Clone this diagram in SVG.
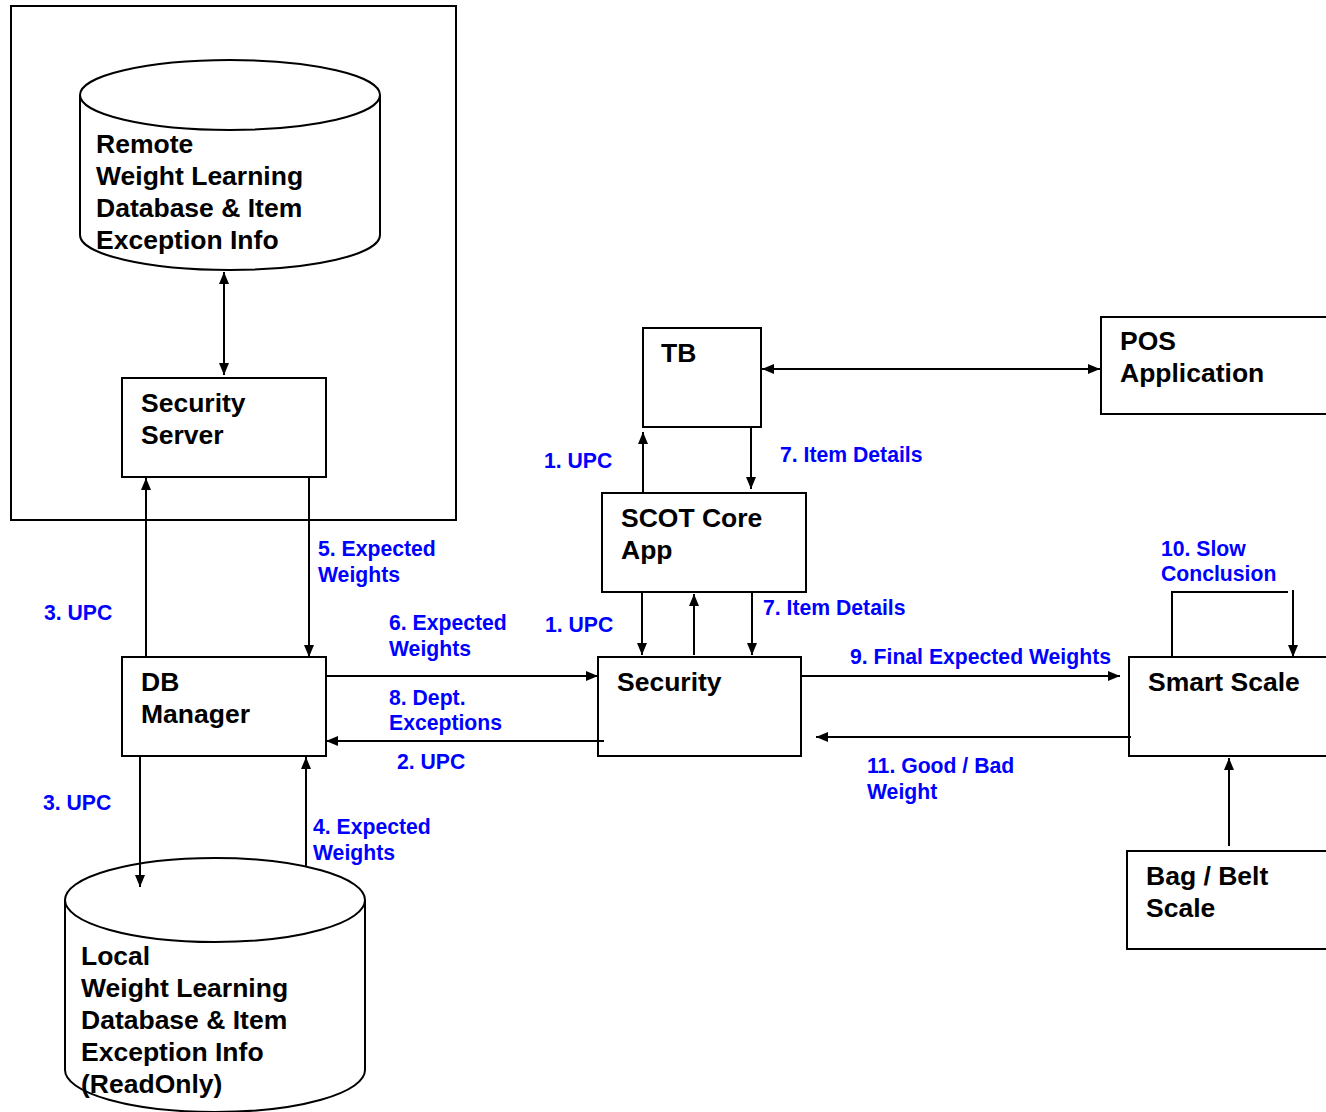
<svg xmlns="http://www.w3.org/2000/svg" width="1326" height="1112" viewBox="0 0 1326 1112">
<style>
.box{fill:#fff;stroke:#000;stroke-width:2}
.cyl{fill:#fff;stroke:#000;stroke-width:2}
.t{font-family:"Liberation Sans",Arial,sans-serif;font-weight:bold;font-size:26.5px;fill:#000}
.l{font-family:"Liberation Sans",Arial,sans-serif;font-weight:bold;font-size:21.2px;fill:#0000ff}
.c{stroke:#000;stroke-width:2;fill:none}
</style>
<defs>
<marker id="ah" viewBox="0 0 12 10" refX="12" refY="5" markerWidth="12" markerHeight="10" orient="auto-start-reverse" markerUnits="userSpaceOnUse"><path d="M0,0 L12,5 L0,10 z" fill="#000"/></marker>
</defs>
<rect width="1326" height="1112" fill="#fff"/>
<g id="remote-site"><rect x="11" y="6" width="445" height="514" class="box" fill="none"/></g>
<g id="remote-db">
<path class="cyl" d="M80,95 L80,235 A150,35 0 0 0 380,235 L380,95"/>
<ellipse cx="230" cy="95" rx="150" ry="35" class="cyl"/>
<text class="t" x="96" y="153">Remote</text>
<text class="t" x="96" y="185">Weight Learning</text>
<text class="t" x="96" y="217">Database &amp; Item</text>
<text class="t" x="96" y="249">Exception Info</text>
</g>
<g id="security-server"><rect x="122" y="378" width="204" height="99" class="box"/>
<text class="t" x="141" y="412">Security</text><text class="t" x="141" y="444">Server</text></g>
<g id="db-manager"><rect x="122" y="657" width="204" height="99" class="box"/>
<text class="t" x="141" y="691">DB</text><text class="t" x="141" y="723">Manager</text></g>
<g id="local-db">
<path class="cyl" d="M65,900 L65,1070 A150,42 0 0 0 365,1070 L365,900"/>
<ellipse cx="215" cy="900" rx="150" ry="42" class="cyl"/>
<text class="t" x="81" y="965">Local</text>
<text class="t" x="81" y="997">Weight Learning</text>
<text class="t" x="81" y="1029">Database &amp; Item</text>
<text class="t" x="81" y="1061">Exception Info</text>
<text class="t" x="81" y="1093">(ReadOnly)</text>
</g>
<g id="tb"><rect x="643" y="328" width="118" height="99" class="box"/><text class="t" x="661" y="362">TB</text></g>
<g id="pos"><rect x="1101" y="317" width="240" height="97" class="box"/>
<text class="t" x="1120" y="350">POS</text><text class="t" x="1120" y="382">Application</text></g>
<g id="scot"><rect x="602" y="493" width="204" height="99" class="box"/>
<text class="t" x="621" y="527">SCOT Core</text><text class="t" x="621" y="559">App</text></g>
<g id="security"><rect x="598" y="657" width="203" height="99" class="box"/>
<text class="t" x="617" y="691">Security</text></g>
<g id="smart-scale"><rect x="1129" y="657" width="210" height="99" class="box"/>
<text class="t" x="1148" y="691">Smart Scale</text></g>
<g id="bag-scale"><rect x="1127" y="851" width="212" height="98" class="box"/>
<text class="t" x="1146" y="885">Bag / Belt</text><text class="t" x="1146" y="917">Scale</text></g>
<g id="connectors">
<line class="c" x1="224" y1="272" x2="224" y2="375" marker-start="url(#ah)" marker-end="url(#ah)"/>
<line class="c" x1="146" y1="657" x2="146" y2="478" marker-end="url(#ah)"/>
<line class="c" x1="309" y1="477" x2="309" y2="657" marker-end="url(#ah)"/>
<line class="c" x1="140" y1="756" x2="140" y2="887" marker-end="url(#ah)"/>
<line class="c" x1="306" y1="867" x2="306" y2="757" marker-end="url(#ah)"/>
<line class="c" x1="326" y1="676" x2="598" y2="676" marker-end="url(#ah)"/>
<line class="c" x1="604" y1="741" x2="326" y2="741" marker-end="url(#ah)"/>
<line class="c" x1="643" y1="493" x2="643" y2="432" marker-end="url(#ah)"/>
<line class="c" x1="751" y1="428" x2="751" y2="489" marker-end="url(#ah)"/>
<line class="c" x1="762" y1="369" x2="1100" y2="369" marker-start="url(#ah)" marker-end="url(#ah)"/>
<line class="c" x1="642" y1="592" x2="642" y2="655" marker-end="url(#ah)"/>
<line class="c" x1="694" y1="655" x2="694" y2="594" marker-end="url(#ah)"/>
<line class="c" x1="752" y1="592" x2="752" y2="655" marker-end="url(#ah)"/>
<line class="c" x1="801" y1="676" x2="1120" y2="676" marker-end="url(#ah)"/>
<line class="c" x1="1131" y1="737" x2="816" y2="737" marker-end="url(#ah)"/>
<polyline class="c" points="1172,657 1172,592 1288,592"/>
<line class="c" x1="1293" y1="590" x2="1293" y2="657" marker-end="url(#ah)"/>
<line class="c" x1="1229" y1="846" x2="1229" y2="758" marker-end="url(#ah)"/>
</g>
<g id="labels">
<text class="l" x="44" y="620">3. UPC</text>
<text class="l" x="318" y="556">5. Expected</text><text class="l" x="318" y="582">Weights</text>
<text class="l" x="43" y="810">3. UPC</text>
<text class="l" x="313" y="834">4. Expected</text><text class="l" x="313" y="860">Weights</text>
<text class="l" x="389" y="630">6. Expected</text><text class="l" x="389" y="656">Weights</text>
<text class="l" x="389" y="705">8. Dept.</text><text class="l" x="389" y="730">Exceptions</text>
<text class="l" x="397" y="769">2. UPC</text>
<text class="l" x="545" y="632">1. UPC</text>
<text class="l" x="544" y="468">1. UPC</text>
<text class="l" x="780" y="462">7. Item Details</text>
<text class="l" x="763" y="615">7. Item Details</text>
<text class="l" x="850" y="664">9. Final Expected Weights</text>
<text class="l" x="867" y="773">11. Good / Bad</text><text class="l" x="867" y="799">Weight</text>
<text class="l" x="1161" y="556">10. Slow</text><text class="l" x="1161" y="581">Conclusion</text>
</g>
</svg>
